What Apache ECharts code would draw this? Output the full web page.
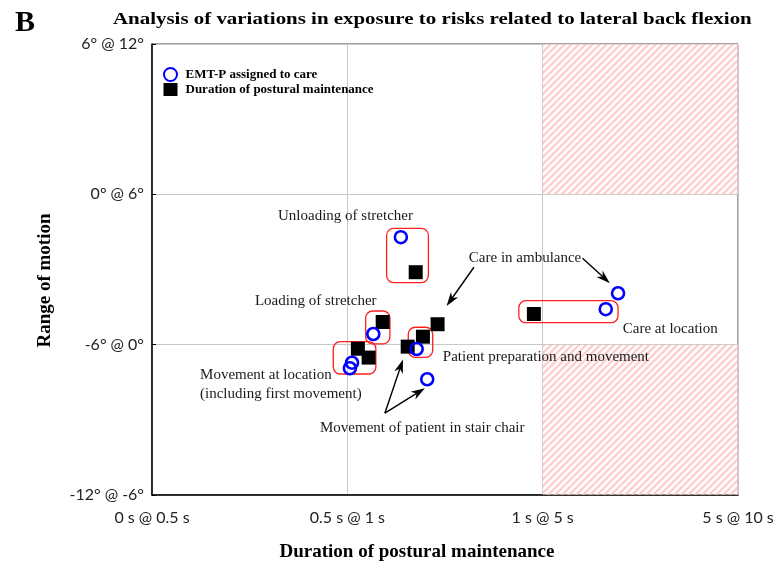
<!DOCTYPE html>
<html><head><meta charset="utf-8">
<script src="https://cdn.jsdelivr.net/npm/echarts@6/dist/echarts.min.js"></script>
<style>html,body{margin:0;padding:0;background:#fff}#c{width:781px;height:561px}</style>
</head><body><div id="c"></div>
<script>
const xTickLabels = ['0 s @ 0.5 s', '0.5 s @ 1 s', '1 s @ 5 s', '5 s @ 10 s'];
const yTickLabels = ['-12° @ -6°', '-6° @ 0°', '0° @ 6°', '6° @ 12°'];
const emtPoints = [[1.274,1.715],[1.133,1.071],[1.024,0.880],[1.013,0.843],[1.355,0.971],[1.409,0.770],[2.386,1.342],[2.323,1.236]];
const durationPoints = [[1.350,1.482],[1.181,1.151],[1.054,0.973],[1.109,0.914],[1.387,1.053],[1.309,0.987],[1.462,1.136],[1.955,1.204]];
const groupBoxes = [[1.201,1.413,1.415,1.774],[1.094,1.005,1.218,1.224],[0.928,0.805,1.146,1.020],[1.312,0.916,1.437,1.116],[1.878,1.146,2.386,1.293]];
const arrows = [[2.204,1.575,2.344,1.409],[1.648,1.515,1.508,1.257],[1.192,0.544,1.285,0.902],[1.192,0.544,1.397,0.710]];
const noteText = ['Unloading of stretcher','Loading of stretcher','Movement at location','(including first movement)','Movement of patient in stair chair','Patient preparation and movement','Care in ambulance','Care at location'];
const notePos = [[0.645,1.856],[0.527,1.291],[0.246,0.798],[0.246,0.672],[0.860,0.446],[1.489,0.918],[1.622,1.577],[2.410,1.104]];
const riskZones = [[2,2,3,3],[2,0,3,1]];
const titleText = 'Analysis of variations in exposure to risks related to lateral back flexion';

const cv = document.createElement('canvas');
cv.width = 7; cv.height = 7;
const cx = cv.getContext('2d');
cx.fillStyle = 'rgba(255,255,255,0.45)';
cx.fillRect(0,0,7,7);
cx.strokeStyle = 'rgba(255,185,185,0.7)';
cx.lineWidth = 2.4;
cx.beginPath();
cx.moveTo(-1,8); cx.lineTo(8,-1);
cx.moveTo(-4,4); cx.lineTo(4,-4);
cx.moveTo(3,11); cx.lineTo(11,3);
cx.stroke();

const serif = '"Liberation Serif","Times New Roman",serif';
const chart = echarts.init(document.getElementById('c'));
chart.setOption({
  animation: false,
  graphic: [
    {type: 'text', x: 15, y: 23, z: 20, style: {text: 'B', font: 'bold 30px ' + serif, fill: '#000', align: 'left', verticalAlign: 'middle'}},
    {type: 'text', x: 113, y: 20, scaleX: 1.23, z: 20, style: {text: titleText, font: 'bold 17px ' + serif, fill: '#000', align: 'left', verticalAlign: 'middle'}}
  ],
  legend: {
    left: 158, top: 62, orient: 'vertical', itemGap: 1, itemWidth: 14, itemHeight: 13,
    textStyle: {fontFamily: serif, fontWeight: 'bold', fontSize: 13, color: '#000', padding: [0,0,0,3]},
    data: ['EMT-P assigned to care', 'Duration of postural maintenance']
  },
  grid: {left: 152, right: 43, top: 44, bottom: 66, show: true, borderColor: '#444', borderWidth: 1, outerBoundsMode: 'none', containLabel: false},
  xAxis: {
    type: 'value', min: 0, max: 3, interval: 1,
    name: 'Duration of postural maintenance', nameLocation: 'middle', nameGap: 48,
    nameTextStyle: {fontFamily: serif, fontWeight: 'bold', fontSize: 19, color: '#000', padding: [0,56,0,0]},
    axisLine: {show: true, lineStyle: {color: '#000', width: 1.5}},
    axisTick: {show: false},
    axisLabel: {margin: 15, fontFamily: 'Lato', fontSize: 16, color: '#222', formatter: v => xTickLabels[Math.round(v)]},
    splitLine: {show: true, lineStyle: {color: '#c8c8c8', width: 1}}
  },
  yAxis: {
    type: 'value', min: 0, max: 3, interval: 1,
    name: 'Range of motion', nameLocation: 'middle', nameGap: 97, nameRotate: 90,
    nameTextStyle: {fontFamily: serif, fontWeight: 'bold', fontSize: 19, color: '#000', padding: [0,22,0,0]},
    axisLine: {show: true, lineStyle: {color: '#000', width: 1.5}},
    axisTick: {show: true, length: 4, inside: true, lineStyle: {color: '#000'}},
    axisLabel: {margin: 8, fontFamily: 'Lato', fontSize: 16, color: '#222', formatter: v => yTickLabels[Math.round(v)]},
    splitLine: {show: true, lineStyle: {color: '#c8c8c8', width: 1}}
  },
  series: [
    {
      type: 'custom', name: 'notes', z: 2, silent: true,
      data: notePos,
      renderItem: (params, api) => {
        const p = api.coord([api.value(0), api.value(1)]);
        return {type: 'text', x: p[0], y: p[1], style: {text: noteText[params.dataIndex], fill: '#1a1a1a', font: '15px ' + serif, align: 'left', verticalAlign: 'middle'}};
      }
    },
    {
      type: 'scatter', name: 'zones', z: 5, silent: true, data: [], symbolSize: 0,
      markArea: {
        silent: true,
        itemStyle: {color: {image: cv, repeat: 'repeat'}, borderWidth: 0},
        data: riskZones.map(r => [{coord: [r[0], r[1]]}, {coord: [r[2], r[3]]}])
      }
    },
    {
      type: 'custom', name: 'boxes', z: 6, silent: true,
      data: groupBoxes, encode: {x: [0, 2], y: [1, 3]},
      renderItem: (params, api) => {
        const a = api.coord([api.value(0), api.value(1)]);
        const b = api.coord([api.value(2), api.value(3)]);
        return {type: 'rect', shape: {x: Math.min(a[0], b[0]), y: Math.min(a[1], b[1]), width: Math.abs(b[0]-a[0]), height: Math.abs(b[1]-a[1]), r: 7},
          style: {fill: 'none', stroke: '#ff1f1f', lineWidth: 1.3}};
      }
    },
    {
      type: 'custom', name: 'arrows', z: 7, silent: true,
      data: arrows, encode: {x: [0, 2], y: [1, 3]},
      renderItem: (params, api) => {
        const a = api.coord([api.value(0), api.value(1)]);
        const b = api.coord([api.value(2), api.value(3)]);
        const ang = Math.atan2(b[1]-a[1], b[0]-a[0]);
        const L = 14, W = 4.5;
        const ux = Math.cos(ang), uy = Math.sin(ang);
        const bx = b[0] - ux*L, by = b[1] - uy*L;
        const nx = b[0] - ux*L*0.7, ny = b[1] - uy*L*0.7;
        return {type: 'group', children: [
          {type: 'line', shape: {x1: a[0], y1: a[1], x2: nx, y2: ny}, style: {stroke: '#000', lineWidth: 1.4}},
          {type: 'polygon', shape: {points: [[b[0], b[1]], [bx - uy*W, by + ux*W], [nx, ny], [bx + uy*W, by - ux*W]]}, style: {fill: '#000'}}
        ]};
      }
    },
    {
      type: 'scatter', name: 'Duration of postural maintenance', z: 10,
      symbol: 'rect', symbolSize: 14, data: durationPoints,
      itemStyle: {color: '#000', opacity: 1}
    },
    {
      type: 'scatter', name: 'EMT-P assigned to care', z: 11,
      symbol: 'circle', symbolSize: 12, data: emtPoints,
      itemStyle: {color: 'rgba(255,255,255,0)', borderColor: '#0000ff', borderWidth: 2.6, opacity: 1}
    }
  ]
});
</script></body></html>
